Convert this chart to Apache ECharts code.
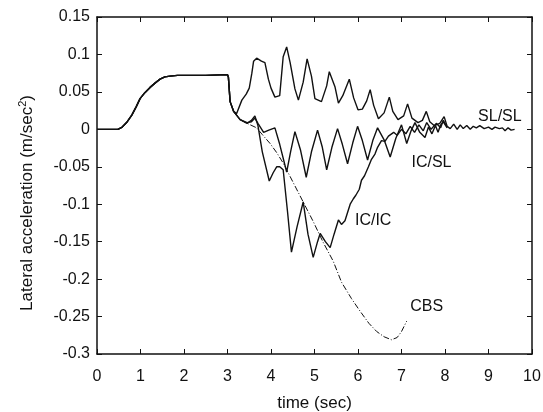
<!DOCTYPE html>
<html>
<head>
<meta charset="utf-8">
<script src="https://cdn.jsdelivr.net/npm/echarts@6/dist/echarts.min.js"></script>
<style>
  html, body { margin: 0; padding: 0; background: #fff; }
  #chart { width: 543px; height: 412px; }
</style>
</head>
<body>
<div id="chart"></div>
<script>
// common ramp 0 - 3 s (all four runs identical)
const rampT = [0, 0.48, 0.58, 0.68, 0.8, 0.9, 0.99, 1.1, 1.22, 1.34, 1.45, 1.56, 1.68, 1.85, 2.0, 2.5, 3.0, 3.02];
const rampV = [0, 0, 0.003, 0.009, 0.019, 0.03, 0.041, 0.049, 0.056, 0.062, 0.067, 0.07, 0.071, 0.072, 0.072, 0.072, 0.073, 0.07];

// SL/SL
const slslT = [3.06, 3.14, 3.21, 3.33, 3.43, 3.5, 3.56, 3.6, 3.67, 3.78, 3.86, 3.94, 4.0, 4.09, 4.2, 4.28, 4.36, 4.44, 4.55, 4.63,
  4.74, 4.83, 4.93, 5.01, 5.16, 5.28, 5.34, 5.47, 5.55, 5.65, 5.8, 5.9, 6.0, 6.1, 6.2, 6.28, 6.36, 6.47, 6.6, 6.72,
  6.8, 6.92, 7.05, 7.14, 7.24, 7.38, 7.48, 7.57, 7.65, 7.75, 7.88, 7.98, 8.05, 8.12, 8.2, 8.28, 8.35, 8.42, 8.5, 8.58,
  8.65, 8.72, 8.8, 8.9, 9.0, 9.08, 9.15, 9.25, 9.32, 9.38, 9.45, 9.52, 9.6];
const slslV = [0.037, 0.024, 0.021, 0.039, 0.047, 0.055, 0.075, 0.091, 0.095, 0.091, 0.089, 0.067, 0.055, 0.043, 0.045, 0.097, 0.11, 0.089, 0.054, 0.039,
  0.063, 0.094, 0.071, 0.041, 0.037, 0.058, 0.077, 0.057, 0.035, 0.045, 0.067, 0.042, 0.026, 0.027, 0.038, 0.053, 0.032, 0.014, 0.022, 0.043,
  0.024, 0.013, 0.018, 0.034, 0.015, 0.009, 0.012, 0.024, 0.01, 0.005, 0.008, 0.017, 0.004, 0.001, 0.007, 0.0, 0.006, 0.001, 0.005, 0.0,
  0.004, 0.002, 0.005, 0.001, 0.003, 0.0, 0.003, 0.001, 0.002, -0.002, 0.002, -0.001, 0.0];

// IC/SL
const icslT = [3.06, 3.14, 3.29, 3.45, 3.55, 3.63, 3.7, 3.83, 3.95, 4.09, 4.2, 4.36, 4.45, 4.55, 4.68, 4.81, 4.93, 5.07, 5.18, 5.28,
  5.4, 5.53, 5.64, 5.76, 5.88, 5.99, 6.1, 6.22, 6.34, 6.45, 6.6, 6.74, 6.87, 7.0, 7.12, 7.22, 7.31, 7.42, 7.54, 7.62,
  7.7, 7.78, 7.84, 7.9, 7.96, 8.05];
const icslV = [0.037, 0.024, 0.013, 0.009, 0.01, 0.015, 0.008, -0.004, -0.001, 0.002, -0.02, -0.057, -0.03, -0.003, -0.028, -0.064, -0.03, -0.001, -0.024, -0.054,
  -0.024, 0.001, -0.02, -0.046, -0.018, 0.004, -0.015, -0.041, -0.015, 0.002, -0.014, -0.037, -0.012, 0.006, -0.019, -0.002, 0.009, -0.004, -0.011, 0.003,
  -0.006, 0.005, -0.004, 0.006, 0.01, 0.002];

// IC/IC
const icicT = [3.06, 3.14, 3.29, 3.45, 3.55, 3.63, 3.7, 3.8, 3.96, 4.05, 4.13, 4.2, 4.28, 4.38, 4.47, 4.6, 4.74, 4.85, 4.97, 5.07,
  5.13, 5.25, 5.36, 5.45, 5.55, 5.62, 5.7, 5.82, 5.89, 5.95, 6.03, 6.08, 6.15, 6.24, 6.31, 6.39, 6.45, 6.54, 6.62, 6.7,
  6.82, 6.9, 7.0, 7.1, 7.2, 7.3, 7.4, 7.5, 7.58, 7.68, 7.8, 7.9, 7.96, 8.05];
const icicV = [0.037, 0.024, 0.013, 0.008, 0.012, 0.018, 0.005, -0.03, -0.069, -0.058, -0.05, -0.05, -0.054, -0.11, -0.164, -0.13, -0.097, -0.14, -0.171, -0.15,
  -0.139, -0.15, -0.158, -0.14, -0.121, -0.127, -0.122, -0.1, -0.093, -0.088, -0.08, -0.068, -0.062, -0.05, -0.04, -0.033, -0.024, -0.015, -0.016, -0.009,
  -0.004, -0.008, 0.0, -0.006, 0.004, -0.004, 0.006, -0.002, 0.009, 0.0, 0.008, 0.002, 0.012, 0.003];

// CBS (dashed)
const cbsT = [3.14, 3.29, 3.45, 3.67, 3.8, 3.98, 4.13, 4.28, 4.51, 4.74, 4.97, 5.2, 5.43, 5.62, 5.85, 6.05, 6.25, 6.43, 6.6, 6.77, 6.9, 7.0, 7.12];
const cbsV = [0.024, 0.013, 0.008, 0.002, -0.007, -0.019, -0.031, -0.045, -0.071, -0.097, -0.123, -0.151, -0.176, -0.204, -0.226, -0.243, -0.259, -0.27, -0.277, -0.281, -0.278, -0.27, -0.256];

// curve labels (data coords of text left/middle)
const labelText = ["SL/SL", "IC/SL", "IC/IC", "CBS"];
const labelT = [8.76, 7.23, 5.93, 7.2];
const labelV = [0.017, -0.045, -0.122, -0.237];

const xTicks = [0, 1, 2, 3, 4, 5, 6, 7, 8, 9, 10];
const yTicks = [-0.3, -0.25, -0.2, -0.15, -0.1, -0.05, 0, 0.05, 0.1, 0.15];

function pairs(t, v) {
  return t.map(function (x, i) { return [x, v[i]]; });
}
function withRamp(t, v) {
  return pairs(rampT, rampV).concat(pairs(t, v));
}

const ink = "#111";
const font = "Liberation Sans";

var chart = echarts.init(document.getElementById("chart"));

var solid = function (name, data) {
  return {
    name: name,
    type: "line",
    data: data,
    showSymbol: false,
    symbol: "none",
    lineStyle: { color: ink, width: 1.4 },
    z: 3,
  };
};

// box axis: line + inward ticks, labels only on bottom/left
var frameAxis = function (extra) {
  return Object.assign({
    type: "value",
    axisLine: { show: true, onZero: false, lineStyle: { color: ink, width: 1.5 } },
    axisTick: { show: true, inside: true, length: 5, lineStyle: { color: ink } },
    axisLabel: { show: false },
    splitLine: { show: false },
  }, extra);
};

var option = {
  animation: false,
  backgroundColor: "#fff",
  grid: { left: 97, right: 11, top: 17, bottom: 58, containLabel: false, outerBoundsMode: "none" },
  xAxis: [
    frameAxis({
      position: "bottom",
      min: xTicks[0],
      max: xTicks[xTicks.length - 1],
      interval: 1,
      name: "time (sec)",
      nameLocation: "middle",
      nameGap: 41,
      nameTextStyle: { color: ink, fontSize: 17, fontFamily: font },
      axisLabel: { show: true, color: ink, fontSize: 16, fontFamily: font, margin: 15 },
    }),
    frameAxis({ position: "top", min: 0, max: 10, interval: 1 }),
  ],
  yAxis: [
    frameAxis({
      position: "left",
      min: yTicks[0],
      max: yTicks[yTicks.length - 1],
      interval: 0.05,
      axisLabel: {
        show: true,
        color: ink,
        fontSize: 16,
        fontFamily: font,
        margin: 7,
        formatter: function (v) { return String(+v.toFixed(2)); },
      },
    }),
    frameAxis({ position: "right", min: -0.3, max: 0.15, interval: 0.05 }),
  ],
  series: [
    solid("SL/SL", withRamp(slslT, slslV)),
    solid("IC/SL", withRamp(icslT, icslV)),
    solid("IC/IC", withRamp(icicT, icicV)),
    {
      name: "CBS",
      type: "line",
      data: pairs(cbsT, cbsV),
      showSymbol: false,
      symbol: "none",
      lineStyle: { color: ink, width: 1, type: [6, 2, 1, 2] },
      z: 2,
    },
  ],
};

chart.setOption(option);

// curve names and the y axis title drawn as text elements
var texts = labelText.map(function (s, i) {
  var p = chart.convertToPixel({ gridIndex: 0 }, [labelT[i], labelV[i]]);
  return {
    type: "text",
    x: p[0],
    y: p[1],
    style: { text: s, fill: ink, fontSize: 16, fontFamily: font, textAlign: "left", textVerticalAlign: "middle" },
  };
});
texts.push({
  type: "text",
  x: 27,
  y: 203,
  rotation: Math.PI / 2,
  style: {
    text: "{a|Lateral acceleration (m/sec}{s|2}{a|)}",
    textAlign: "center",
    textVerticalAlign: "middle",
    rich: {
      a: { fontSize: 17, fontFamily: font, fill: ink, color: ink },
      s: { fontSize: 11, fontFamily: font, fill: ink, color: ink, verticalAlign: "top", padding: [0, 0, 8, 0] },
    },
  },
});
chart.setOption({ graphic: texts });
</script>
</body>
</html>
